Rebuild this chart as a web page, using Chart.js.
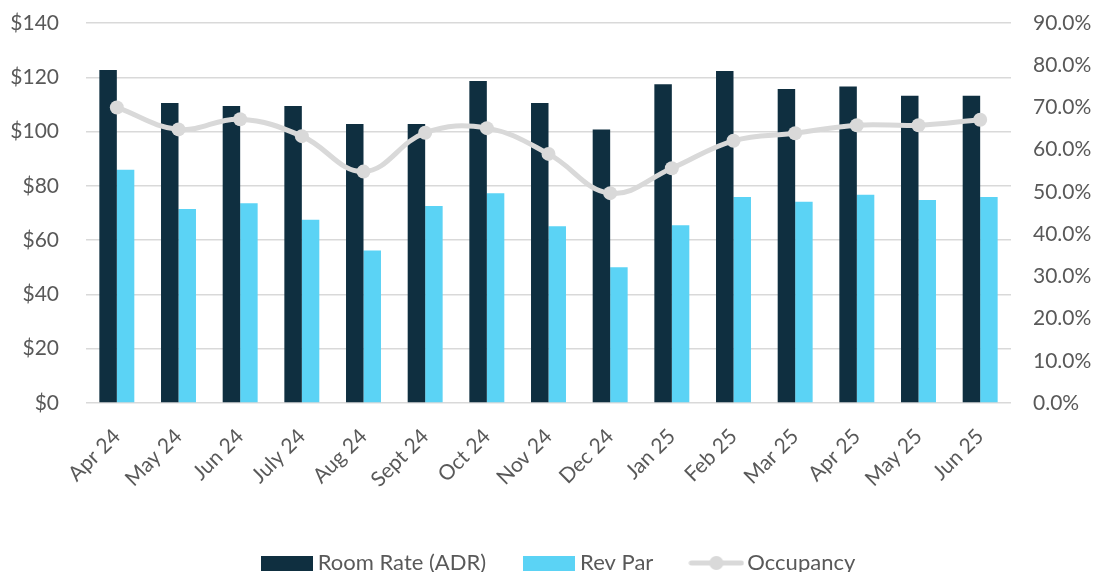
<!DOCTYPE html>
<html>
<head>
<meta charset="utf-8">
<script src="https://cdn.jsdelivr.net/npm/chart.js@4/dist/chart.umd.min.js"></script>
<style>
  html, body { margin: 0; padding: 0; background: #ffffff; overflow: hidden; }
  #wrap { width: 1097px; height: 572px; position: relative; }
</style>
</head>
<body>
<div id="wrap"><canvas id="c"></canvas></div>
<script>
const categories = ["Apr 24","May 24","Jun 24","July 24","Aug 24","Sept 24","Oct 24","Nov 24","Dec 24","Jan 25","Feb 25","Mar 25","Apr 25","May 25","Jun 25"];
const roomRate = [122.7,110.5,109.4,109.4,102.8,102.8,118.6,110.5,100.8,117.4,122.3,115.7,116.6,113.2,113.2];
const revPar = [85.9,71.5,73.6,67.5,56.2,72.6,77.3,65.1,50.0,65.5,75.9,74.1,76.7,74.8,75.9];
const occupancy = [70.0,64.8,67.2,63.2,54.8,64.0,65.1,59.0,49.7,55.6,62.1,63.9,65.8,65.8,67.1];
const leftTicksMax = 140, leftStep = 20;
const rightTicksMax = 90, rightStep = 10;

const TEXT = '#595959';
const ADR_COLOR = '#0f2f40';
const REV_COLOR = '#5bd3f5';
const OCC_COLOR = '#d9d9d9';
const FONT = 'Lato, "Open Sans", sans-serif';

function boxImg(color) {
  const c = document.createElement('canvas');
  c.width = 52; c.height = 15;
  const g = c.getContext('2d');
  g.fillStyle = color; g.fillRect(0, 0, 52, 15);
  return c;
}
function lineImg(color) {
  const c = document.createElement('canvas');
  c.width = 56; c.height = 16;
  const g = c.getContext('2d');
  g.strokeStyle = color; g.lineWidth = 5; g.lineCap = 'round';
  g.beginPath(); g.moveTo(3, 8); g.lineTo(53, 8); g.stroke();
  g.fillStyle = color; g.beginPath(); g.arc(28, 8, 7, 0, Math.PI * 2); g.fill();
  return c;
}
const legendImgs = [boxImg(ADR_COLOR), boxImg(REV_COLOR), lineImg(OCC_COLOR)];

const chart = new Chart(document.getElementById('c'), {
  type: 'bar',
  data: {
    labels: categories,
    datasets: [
      { label: 'Room Rate (ADR)', data: roomRate, backgroundColor: ADR_COLOR, yAxisID: 'y', order: 0,
        categoryPercentage: 0.567, barPercentage: 1.0 },
      { label: 'Rev Par', data: revPar, backgroundColor: REV_COLOR, yAxisID: 'y', order: 0,
        categoryPercentage: 0.567, barPercentage: 1.0 },
      { type: 'line', label: 'Occupancy', data: occupancy, yAxisID: 'y1', order: -1,
        borderColor: OCC_COLOR, backgroundColor: OCC_COLOR, borderWidth: 5,
        pointRadius: 7, pointHoverRadius: 7, pointBackgroundColor: OCC_COLOR, pointBorderWidth: 0,
        tension: 0.4, fill: false }
    ]
  },
  options: {
    responsive: true,
    maintainAspectRatio: false,
    animation: false,
    layout: { padding: { top: 23, left: 0, right: -25, bottom: 0 } },
    plugins: {
      tooltip: { enabled: false },
      legend: {
        position: 'bottom',
        labels: {
          font: { family: FONT, size: 22 },
          color: TEXT,
          usePointStyle: true,
          pointStyleWidth: 40,
          boxHeight: 15,
          padding: 43,
          generateLabels: (ch) => ch.data.datasets.map((ds, i) => ({
            text: ds.label, datasetIndex: i, pointStyle: legendImgs[i],
            fillStyle: ds.backgroundColor, strokeStyle: ds.backgroundColor,
            lineWidth: 0, hidden: false, fontColor: TEXT
          }))
        }
      }
    },
    scales: {
      x: {
        grid: { display: false },
        border: { display: false },
        ticks: { color: TEXT, font: { family: FONT, size: 21 }, minRotation: 45, maxRotation: 45, padding: 13 },
        afterFit: (s) => { s.height = 106; }
      },
      y: {
        position: 'left',
        min: 0, max: leftTicksMax,
        grid: { color: OCC_COLOR, lineWidth: 1.5, drawTicks: false },
        border: { display: false },
        ticks: { stepSize: leftStep, color: TEXT, font: { family: FONT, size: 21 }, padding: 27,
          callback: v => '$' + v },
        afterFit: (s) => { s.width = 86; s.paddingTop = 0; s.paddingBottom = 0; }
      },
      y1: {
        position: 'right',
        min: 0, max: rightTicksMax,
        grid: { display: false, drawTicks: false },
        border: { display: false },
        ticks: { stepSize: rightStep, color: TEXT, font: { family: FONT, size: 21 }, padding: 22,
          callback: v => v.toFixed(1) + '%' },
        afterFit: (s) => { s.width = 111; s.paddingTop = 0; s.paddingBottom = 0; }
      }
    }
  }
});
const origFit = chart.legend.fit;
chart.legend.fit = function () { origFit.call(this); this.height = 63; };
chart.update();
</script>
</body>
</html>
